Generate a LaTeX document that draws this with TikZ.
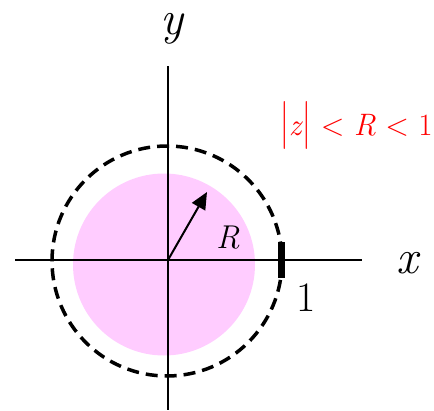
\documentclass[tikz,border=0pt]{standalone}
\usetikzlibrary{arrows.meta}
\definecolor{diskpink}{RGB}{255,204,255}
\definecolor{condred}{RGB}{255,0,0}
\newcommand{\tallbar}{\raisebox{-2pt}{\scalebox{1}[1.55]{|}}}
\begin{document}
\begin{tikzpicture}[x=1pt,y=-1pt,
  axisline/.style={line width=1.8pt, black},
  dashcircle/.style={line width=3.5pt, black, dash pattern=on 12pt off 7pt},
  radiusarrow/.style={line width=2pt, -{Triangle[length=17pt,width=15pt]}},
  axislabel/.style={font=\fontsize{48}{52}\selectfont\itshape, anchor=base, inner sep=0pt},
  smalllabel/.style={font=\fontsize{32}{38}\selectfont, anchor=base, inner sep=0pt}]
\useasboundingbox (0,0) rectangle (434,410);
\fill[diskpink] (164,264.5) circle[radius=91];
\coordinate (O) at (168,260);
\coordinate (xl) at (15,260);
\coordinate (xr) at (362,260);
\coordinate (yt) at (168,66);
\coordinate (yb) at (168,410);
\coordinate (Rtip) at (207,192);
\draw[axisline] (xl) -- (xr);
\draw[axisline] (yt) -- (yb);
\draw[dashcircle] (167,261) circle[radius=115];
\fill (278,242) rectangle (285,278);
\draw[radiusarrow] (O) -- (Rtip);
\node[axislabel] (ylab) at (172,34) {y};
\node[axislabel] (xlab) at (407,273) {x};
\node[smalllabel, font=\fontsize{42}{46}\selectfont] (one) at (306,311) {1};
\node[smalllabel, font=\fontsize{33}{38}\selectfont\itshape] (Rlab) at (228,248) {R};
\node[smalllabel, font=\fontsize{31}{36}\selectfont, anchor=base west, text=condred] (cond) at (280,135)
  {\tallbar\textit{z}\tallbar{} < \textit{R} < 1};
\end{tikzpicture}
\end{document}
